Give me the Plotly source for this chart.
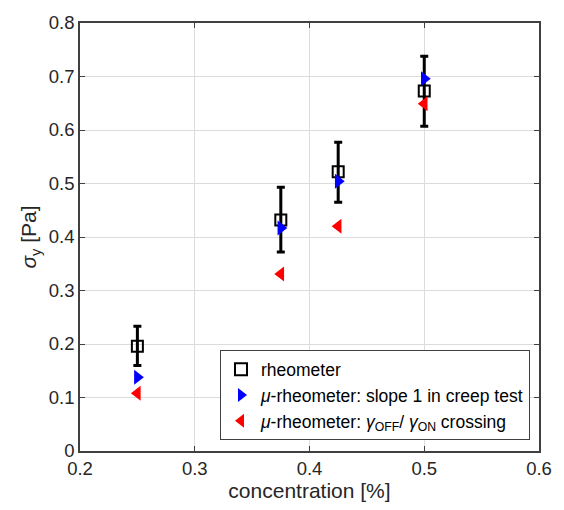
import plotly.graph_objects as go

conc = [0.25, 0.375, 0.425, 0.5]
rheo = [0.196, 0.432, 0.522, 0.673]
rheo_err_plus = [0.037, 0.061, 0.055, 0.065]
rheo_err_minus = [0.036, 0.060, 0.057, 0.066]
mu_slope = [0.138, 0.417, 0.504, 0.696]
mu_cross = [0.108, 0.331, 0.420, 0.649]

FONT = "Liberation Sans, Arial, sans-serif"
fig = go.Figure()
fig.add_trace(go.Scatter(
    x=conc, y=rheo, mode="markers", name="rheometer",
    marker=dict(symbol="square-open", size=11, color="black", line=dict(width=2)),
    error_y=dict(type="data", symmetric=False, array=rheo_err_plus,
                 arrayminus=rheo_err_minus, color="black", thickness=3, width=4),
))
fig.add_trace(go.Scatter(
    x=conc, y=mu_slope, mode="markers",
    name="<i>μ</i>-rheometer: slope 1 in creep test",
    marker=dict(symbol="triangle-right", size=13, color="#0000ff"),
))
fig.add_trace(go.Scatter(
    x=conc, y=mu_cross, mode="markers",
    name="<i>μ</i>-rheometer: <i>γ</i><sub>OFF</sub>/ <i>γ</i><sub>ON</sub> crossing",
    marker=dict(symbol="triangle-left", size=13, color="#ff0000"),
))

axis_common = dict(showgrid=True, gridcolor="#dcdcdc", gridwidth=1,
                   showline=True, linecolor="#404040", linewidth=1.5, mirror="ticks",
                   ticks="inside", ticklen=5, tickcolor="#404040", zeroline=False,
                   tickfont=dict(size=18.5, color="#262626", family=FONT))
fig.update_xaxes(range=[0.2, 0.6], dtick=0.1, tickformat=".1f",
                 title=dict(text="concentration [%]", font=dict(size=21, color="#262626", family=FONT), standoff=4),
                 **axis_common)
fig.update_yaxes(range=[0, 0.8], dtick=0.1,
                 tickvals=[0, 0.1, 0.2, 0.3, 0.4, 0.5, 0.6, 0.7, 0.8],
                 ticktext=["0", "0.1", "0.2", "0.3", "0.4", "0.5", "0.6", "0.7", "0.8"],
                 title=dict(text="<i>σ</i><sub>y</sub> [Pa]", font=dict(size=21, color="#262626", family=FONT), standoff=6),
                 **axis_common)
fig.update_layout(
    width=564, height=510,
    margin=dict(l=80, r=15, t=21, b=59),
    plot_bgcolor="white", paper_bgcolor="white",
    font=dict(family=FONT, color="#262626"),
    legend=dict(x=0.305, y=0.235, xanchor="left", yanchor="top",
                bgcolor="white", bordercolor="#404040", borderwidth=1,
                font=dict(size=17.5, color="black", family=FONT),
                itemsizing="constant", tracegroupgap=0, itemwidth=30),
    showlegend=True,
)
fig.write_html("out.html")
